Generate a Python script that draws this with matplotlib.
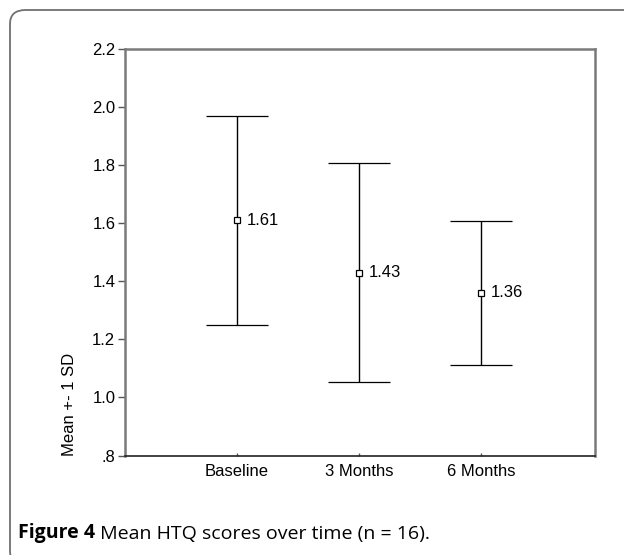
import matplotlib.pyplot as plt
from matplotlib.patches import FancyBboxPatch
from matplotlib.ticker import FixedLocator, FuncFormatter

# data
categories = ['Baseline', '3 Months', '6 Months']
means = [1.61, 1.43, 1.36]
sds = [0.36, 0.376, 0.247]
mean_labels = ['1.61', '1.43', '1.36']
y_ticks = [0.8, 1.0, 1.2, 1.4, 1.6, 1.8, 2.0, 2.2]

W, H = 624, 555
fig = plt.figure(figsize=(W / 100, H / 100), dpi=100)

# rounded outer frame (runs off the right/bottom edge as in the source)
frame = FancyBboxPatch((10 / W, -10 / H), 640 / W, 555 / H,
                       boxstyle='round,pad=0,rounding_size=0.025',
                       transform=fig.transFigure, fill=False,
                       edgecolor='#707070', linewidth=1.3)
fig.patches.append(frame)

ax = fig.add_axes([125 / W, 1 - 455.5 / H, 470 / W, (455.5 - 49) / H])
x = list(range(1, len(categories) + 1))

eb = ax.errorbar(x, means, yerr=sds, fmt='s', ms=5, mfc='white', mec='black',
                 mew=0.9, ecolor='black', elinewidth=1.0, capsize=22, capthick=1.8,
                 zorder=3)
for cap in eb[1]:
    cap.set_color('#3c3c3c')

for xi, m, lab in zip(x, means, mean_labels):
    ax.annotate(lab, (xi, m), xytext=(7, 0), textcoords='offset points',
                ha='left', va='center', fontsize=12, family='Liberation Sans')

ax.set_xlim(0.082, 3.934)
ax.set_ylim(0.8, 2.2)
ax.yaxis.set_major_locator(FixedLocator(y_ticks))
ax.yaxis.set_major_formatter(FuncFormatter(
    lambda v, p: '.8' if abs(v - 0.8) < 1e-6 else f'{v:.1f}'))
ax.set_xticks(x)
ax.set_xticklabels(categories)

for side in ['left', 'right', 'top']:
    ax.spines[side].set_color('#7a7a7a')
    ax.spines[side].set_linewidth(1.8)
ax.spines['bottom'].set_color('#222222')
ax.spines['bottom'].set_linewidth(1.2)

ax.tick_params(axis='y', direction='out', length=5, width=1, color='#555555',
               pad=2, labelsize=12)
ax.tick_params(axis='x', direction='in', length=2, width=1, color='#555555',
               pad=6, labelsize=12)
for lab in ax.get_xticklabels() + ax.get_yticklabels():
    lab.set_family('Liberation Sans')

fig.text(69 / W, 1 - 456 / H, 'Mean +- 1 SD', rotation=90, ha='center',
         va='bottom', fontsize=12, family='Liberation Sans')

# caption
t = fig.text(18 / W, 1 - 538 / H, 'Figure 4', fontsize=14, fontweight='bold',
             family='Open Sans', va='baseline')
ax.annotate(' Mean HTQ scores over time (n = 16).', xy=(1, 0), xycoords=t,
            xytext=(0, 0), textcoords='offset points', va='bottom',
            fontsize=14, family='Open Sans', annotation_clip=False)

fig.savefig('out.png', dpi=100)
